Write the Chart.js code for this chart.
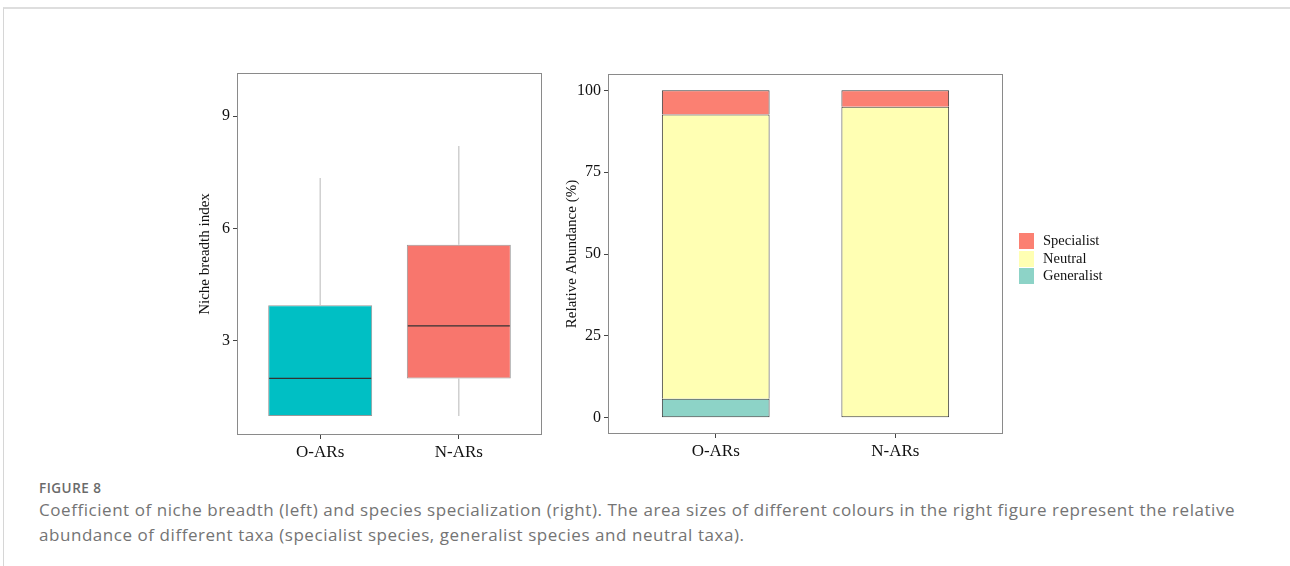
<!DOCTYPE html>
<html>
<head>
<meta charset="utf-8">
<script src="https://cdn.jsdelivr.net/npm/chart.js@4"></script>
<style>
  html, body { margin: 0; padding: 0; background: #fff; }
  body { width: 1290px; height: 566px; position: relative; overflow: hidden; }
  #frame { position: absolute; left: 3px; top: 7px; right: -2px; bottom: -2px;
           border-top: 2px solid #dedede; border-left: 1px solid #d6d6d6; }
  #left { position: absolute; left: 190px; top: 60px; }
  #right { position: absolute; left: 555px; top: 70px; }
  #legend { position: absolute; left: 1019px; top: 232px; font-family: "Liberation Serif", serif; font-size: 14.5px; color: #111; }
  .row { height: 17.5px; position: relative; }
  .sw { position: absolute; left: 0; top: 1px; width: 15px; height: 16px; }
  .lab { position: absolute; left: 24px; top: 0; line-height: 17px; }
  #fig { position: absolute; left: 39px; top: 479px; font-family: "Open Sans", sans-serif; font-size: 13.5px; font-weight: 600; color: #6a6a6a; letter-spacing: 0.5px; }
  #cap { position: absolute; left: 39px; top: 497px; font-family: "Open Sans", sans-serif; font-size: 17px; line-height: 25px; letter-spacing: 0.55px; color: #747474; white-space: nowrap; }
</style>
</head>
<body>
<div id="frame"></div>
<canvas id="left" width="370" height="410"></canvas>
<canvas id="right" width="460" height="400"></canvas>
<div id="legend"></div>
<div id="fig">FIGURE 8</div>
<div id="cap">Coefficient of niche breadth (left) and species specialization (right). The area sizes of different colours in the right figure represent the relative<br>abundance of different taxa (specialist species, generalist species and neutral taxa).</div>
<script>
// left panel: niche breadth boxplot
const groups = ['O-ARs', 'N-ARs'];
const boxColors = ['#00BFC4', '#F8766D'];
const lowerWhisker = [1.0, 1.0];
const q1 = [1.0, 2.0];
const median = [2.0, 3.4];
const q3 = [3.95, 5.57];
const upperWhisker = [7.35, 8.2];
const nicheTicks = [3, 6, 9];

// right panel: relative abundance (%)
const generalist = [5.8, 0];
const neutral = [86.8, 95.0];
const specialist = [7.4, 5.0];
const abundanceTicks = [0, 25, 50, 75, 100];

const serif = 'Liberation Serif';

const panelBorder = {
  id: 'panelBorder',
  afterDraw(chart) {
    const {ctx, chartArea: a} = chart;
    ctx.save();
    ctx.strokeStyle = '#8a8a8a';
    ctx.lineWidth = 1;
    ctx.strokeRect(a.left + 0.5, a.top + 0.5, a.right - a.left - 1, a.bottom - a.top - 1);
    ctx.restore();
  }
};

const medianLines = {
  id: 'medianLines',
  afterDatasetsDraw(chart) {
    const meta = chart.getDatasetMeta(2);
    const ctx = chart.ctx;
    ctx.save();
    ctx.strokeStyle = '#333';
    ctx.lineWidth = 1.3;
    meta.data.forEach((bar, i) => {
      const y = chart.scales.y.getPixelForValue(median[i]);
      ctx.beginPath();
      ctx.moveTo(bar.x - bar.width / 2 + 1, y);
      ctx.lineTo(bar.x + bar.width / 2 - 1, y);
      ctx.stroke();
    });
    ctx.restore();
  }
};

function xAxis(height) {
  return {
    type: 'linear', min: 0.4, max: 2.6, offset: false,
    afterBuildTicks: s => { s.ticks = [{value: 1}, {value: 2}]; },
    afterFit: s => { s.height = height; s.paddingLeft = 0; s.paddingRight = 0; },
    grid: {offset: false, drawOnChartArea: false, drawTicks: true, tickLength: 4, color: '#444'},
    border: {display: false},
    ticks: {callback: v => groups[v - 1], color: '#111', padding: 3, font: {family: serif, size: 17}, maxRotation: 0}
  };
}

function yAxis(min, max, tickVals, width, title, titlePad) {
  return {
    type: 'linear', min: min, max: max,
    afterBuildTicks: s => { s.ticks = tickVals.map(v => ({value: v})); },
    afterFit: s => { s.width = width; s.paddingTop = 0; s.paddingBottom = 0; },
    grid: {drawOnChartArea: false, drawTicks: true, tickLength: 4, color: '#444'},
    border: {display: false},
    ticks: {color: '#111', padding: 3, font: {family: serif, size: 16}},
    title: {display: true, text: title, color: '#111', font: {family: serif, size: 15}, padding: {top: titlePad, bottom: 0}}
  };
}

const pts = arr => arr.map((v, i) => ({x: i + 1, y: v}));

new Chart(document.getElementById('left'), {
  type: 'bar',
  data: {
    datasets: [
      {data: groups.map((g, i) => ({x: i + 1, y: [q3[i], upperWhisker[i]]})), backgroundColor: '#c4c4c4', maxBarThickness: 1.2, grouped: false},
      {data: groups.map((g, i) => ({x: i + 1, y: [lowerWhisker[i], q1[i]]})), backgroundColor: '#c4c4c4', maxBarThickness: 1.2, grouped: false},
      {data: groups.map((g, i) => ({x: i + 1, y: [q1[i], q3[i]]})), backgroundColor: boxColors,
       borderColor: 'rgba(70,70,70,0.55)', borderWidth: 1, borderSkipped: false,
       categoryPercentage: 1, barPercentage: 0.75, grouped: false}
    ]
  },
  options: {
    responsive: false, animation: false,
    layout: {padding: {top: 13, right: 18, left: 0, bottom: 0}},
    plugins: {legend: {display: false}, tooltip: {enabled: false}},
    scales: {
      x: xAxis(35),
      y: yAxis(0.49, 10.15, nicheTicks, 47, 'Niche breadth index', 6)
    }
  },
  plugins: [panelBorder, medianLines]
});

const barStyle = {borderColor: '#3a3a3a', borderWidth: 1, categoryPercentage: 1, barPercentage: 0.6};

new Chart(document.getElementById('right'), {
  type: 'bar',
  data: {
    datasets: [
      {label: 'Generalist', data: pts(generalist), backgroundColor: '#8DD3C7', borderSkipped: false, ...barStyle},
      {label: 'Neutral', data: pts(neutral), backgroundColor: '#FFFFB3', ...barStyle,
       borderSkipped: ctx => generalist[ctx.dataIndex] > 0 ? 'start' : false},
      {label: 'Specialist', data: pts(specialist), backgroundColor: '#FB8072', borderSkipped: 'start', ...barStyle}
    ]
  },
  options: {
    responsive: false, animation: false,
    layout: {padding: {top: 4, right: 12, left: 0, bottom: 0}},
    plugins: {legend: {display: false}, tooltip: {enabled: false}},
    scales: {
      x: {...xAxis(36), stacked: true},
      y: {...yAxis(-5, 105, abundanceTicks, 53, 'Relative Abundance (%)', 8), stacked: true}
    }
  },
  plugins: [panelBorder]
});

// legend, top to bottom as in the stack
const legendItems = [['Specialist', '#FB8072'], ['Neutral', '#FFFFB3'], ['Generalist', '#8DD3C7']];
document.getElementById('legend').innerHTML = legendItems.map(([t, c]) =>
  `<div class="row"><div class="sw" style="background:${c}"></div><div class="lab">${t}</div></div>`).join('');
</script>
</body>
</html>
